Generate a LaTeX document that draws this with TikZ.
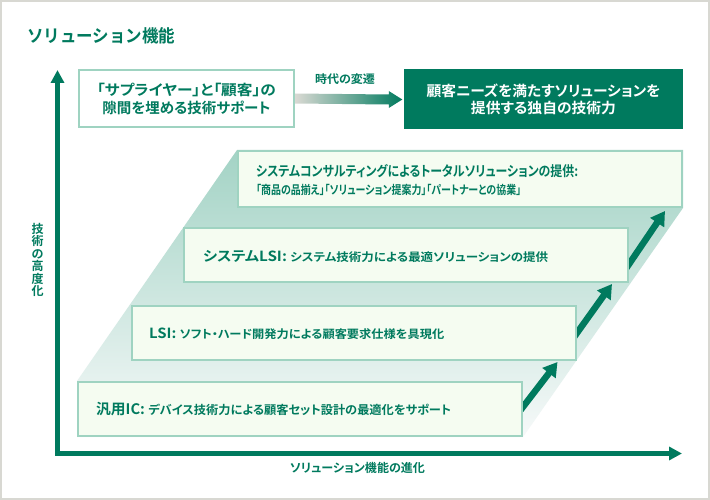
\documentclass[tikz,border=0pt]{standalone}
\usepackage{fontspec}
\usepackage{graphicx}
\usetikzlibrary{arrows.meta,backgrounds,calc}
\newfontfamily\jpb{Noto Sans CJK JP Bold}[RawFeature=+palt]
\newfontfamily\jpn{Noto Sans CJK JP Bold}
\definecolor{sgreen}{HTML}{007A5E}
\definecolor{sline}{HTML}{9FD3C1}
\definecolor{sfill}{HTML}{F5FCF1}
\definecolor{bandtop}{HTML}{A3D3C5}
\definecolor{bandbot}{HTML}{F6F9F9}
\definecolor{framegray}{HTML}{D8D8D2}
\definecolor{arrgray}{HTML}{D9D9D3}
\newcommand\fw[2]{\resizebox{#1}{\height}{#2}}
\newcommand\fsz[1]{\fontsize{#1}{#1}\selectfont}
\begin{document}
\begin{tikzpicture}[x=1pt,y=-1pt,
  stairbox/.style={draw=sline, line width=2pt, fill=sfill, minimum width=444pt, minimum height=54pt, inner sep=0pt},
  gtext/.style={text=sgreen, inner sep=0pt, anchor=west},
  axisline/.style={draw=sgreen, line width=5pt, line join=miter, {Triangle[length=13pt,width=13pt]}-{Triangle[length=13pt,width=13pt]}},
  stairarrow/.style={draw=sgreen, line width=6.5pt, -{Triangle[length=14pt,width=16pt]}}
]
\useasboundingbox (0,0) rectangle (710,500);

% boxes
\node[stairbox, minimum height=56pt] (b1) at (460,179) {};
\node[stairbox] (b2) at (406,255) {};
\node[stairbox] (b3) at (353.5,333) {};
\node[stairbox] (b4) at (300,409) {};

\begin{scope}[on background layer]
  \fill[white] (0,0) rectangle (710,500);
  \shade[top color=bandtop, bottom color=bandbot]
    (b4.north west) -- (b1.north west) -- (b1.north east) -- (b1.south east)
    -- (b4.south east) -- (b4.south west) -- cycle;
  \draw[stairarrow] ([xshift=-7pt,yshift=-7pt]b4.east) -- ([xshift=-19pt,yshift=-1pt]b3.south east);
  \draw[stairarrow] ([xshift=-6pt,yshift=-9pt]b3.east) -- ([xshift=-17pt,yshift=-1pt]b2.south east);
  \draw[stairarrow] ([xshift=-6pt,yshift=-18pt]b2.east) -- ([xshift=-18pt,yshift=-3pt]b1.south east);
\end{scope}

% frame
\draw[framegray, line width=2pt] (1,1) rectangle (709,499);

% title
\node[gtext, font=\jpn\fsz{17.5}] (title) at (27,36) {\fw{148pt}{ソリューション機能}};

% axes
\coordinate (ytip) at (57.5,70);
\coordinate (origin) at (57.5,453.5);
\coordinate (xtip) at (682,453.5);
\draw[axisline] (ytip) -- (origin) -- (xtip);
\node[text=sgreen, inner sep=0pt, font=\jpn\fontsize{12}{12.5}\selectfont, align=center] (ylab) at (37.5,260) {技\\術\\の\\高\\度\\化};
\node[text=sgreen, inner sep=0pt, font=\jpb\fsz{12}] (xlab) at (357.5,467.5) {\fw{135pt}{ソリューション機能の進化}};

% top boxes
\node[draw=sline, line width=2pt, fill=white, minimum width=215pt, minimum height=57pt, inner sep=0pt,
      text=sgreen, align=center, font=\jpb\fontsize{14.5}{18}\selectfont] (tl) at (186.5,98.5)
  {\fw{179pt}{「サプライヤー」と「顧客」の}\\\fw{168pt}{隙間を埋める技術サポート}};
\node[fill=sgreen, minimum width=279pt, minimum height=60pt, inner sep=0pt,
      text=white, align=center, font=\jpb\fontsize{14.5}{17}\selectfont] (dk) at (543.5,99.5)
  {\fw{234pt}{顧客ニーズを満たすソリューションを}\\\fw{145pt}{提供する独自の技術力}};
\shade[left color=arrgray, right color=sgreen]
  ($(tl.east)+(0,-5)$) -- ($(dk.west)+(-15,-5)$) -- ($(dk.west)+(-15,-8.5)$)
  -- ($(dk.west)+(-1.5,0)$) -- ($(dk.west)+(-15,8.5)$) -- ($(dk.west)+(-15,5)$)
  -- ($(tl.east)+(0,5)$) -- cycle;
\node[text=sgreen, inner sep=0pt, font=\jpb\fsz{11.5}] (era) at (345,79) {\fw{60pt}{時代の変遷}};

% box texts
\node[gtext, font=\jpb\fsz{14}] (t1a) at (256,171) {\fw{322pt}{システムコンサルティングによるトータルソリューションの提供:}};
\node[gtext, font=\jpb\fsz{12}] (t1b) at (256,190) {\fw{265pt}{「商品の品揃え」「ソリューション提案力」「パートナーとの協業」}};
\node[gtext, font=\jpb] (t2) at (203,257) {\fw{345pt}{{\fsz{14}システムLSI: }{\fsz{11.5}システム技術力による最適ソリューションの提供}}};
\node[gtext, font=\jpb] (t3) at (149,334) {\fw{295pt}{{\fsz{14}LSI: }{\fsz{11.5}ソフト・ハード開発力による顧客要求仕様を具現化}}};
\node[gtext, font=\jpb] (t4) at (96,409.5) {\fw{355pt}{{\fsz{14.5}汎用IC: }{\fsz{12}デバイス技術力による顧客セット設計の最適化をサポート}}};
\end{tikzpicture}
\end{document}
